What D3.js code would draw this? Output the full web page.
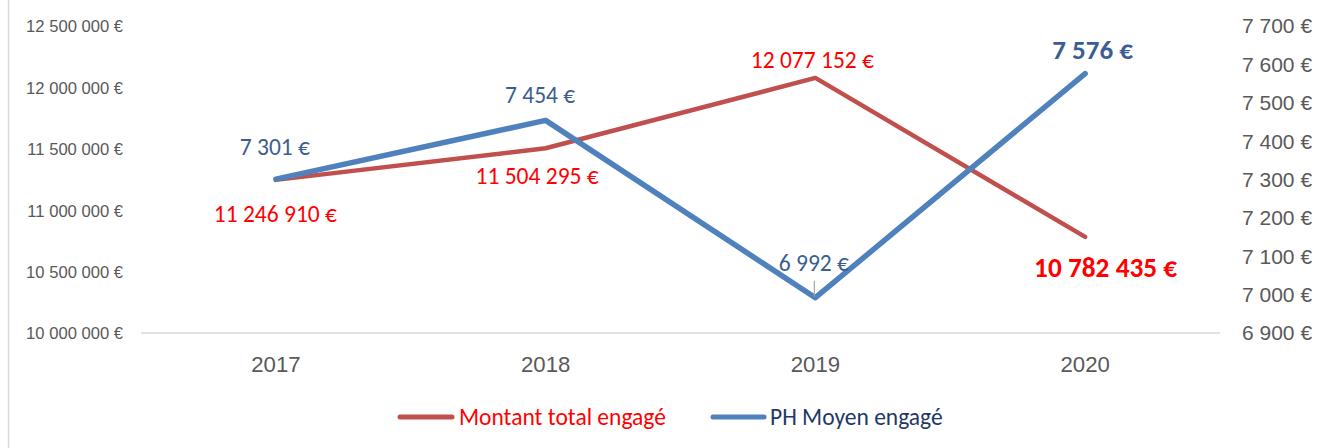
<!DOCTYPE html>
<html><head><meta charset="utf-8">
<script src="https://cdn.jsdelivr.net/npm/d3@7/dist/d3.min.js"></script>
<style>
body{margin:0;background:#fff;}
svg{display:block;font-family:Calibri,Carlito,"Liberation Sans",sans-serif;}
</style></head>
<body><svg id="c" width="1319" height="448"></svg>
<script>
const years = ["2017","2018","2019","2020"];
const montant = [11246910, 11504295, 12077152, 10782435];
const phMoyen = [7301, 7454, 6992, 7576];
const leftTicks = [10000000, 10500000, 11000000, 11500000, 12000000, 12500000];
const rightTicks = [6900, 7000, 7100, 7200, 7300, 7400, 7500, 7600, 7700];
const seriesNames = ["Montant total engagé", "PH Moyen engagé"];

const svg = d3.select("#c");
const W = 1319, H = 448;
const pLeft = 141, pRight = 1220, pTop = 26, pBottom = 333;

const fmt = v => d3.format(",")(v).replace(/,/g, " ") + " €";

const x = d3.scaleBand().domain(years).range([pLeft, pRight]);
const yL = d3.scaleLinear().domain([10000000, 12500000]).range([pBottom, pTop]);
const yR = d3.scaleLinear().domain([6900, 7700]).range([pBottom, pTop]);

svg.append("line").attr("x1", 8.5).attr("x2", 8.5).attr("y1", 0).attr("y2", H)
  .attr("stroke", "#d9d9d9").attr("stroke-width", 1.5);

svg.append("line").attr("x1", pLeft).attr("x2", pRight).attr("y1", pBottom).attr("y2", pBottom)
  .attr("stroke", "#d9d9d9").attr("stroke-width", 1.5);

const gL = svg.append("g").attr("transform", `translate(${pLeft - 18},0)`)
  .call(d3.axisLeft(yL).tickValues(leftTicks).tickSize(0).tickPadding(0).tickFormat(fmt));
gL.select(".domain").remove();
gL.selectAll("text").attr("fill", "#595959").attr("font-size", 16.6).attr("dy", "0.35em");

const gR = svg.append("g").attr("transform", `translate(${pRight + 22},0)`)
  .call(d3.axisRight(yR).tickValues(rightTicks).tickSize(0).tickPadding(0).tickFormat(fmt));
gR.select(".domain").remove();
gR.selectAll("text").attr("fill", "#595959").attr("font-size", 21).attr("dy", "0.33em");

const gX = svg.append("g").attr("transform", `translate(0,${pBottom + 39})`)
  .call(d3.axisBottom(x).tickSize(0).tickPadding(0));
gX.select(".domain").remove();
gX.selectAll("text").attr("fill", "#595959").attr("font-size", 22.2).attr("dy", 0);

const cx = d => x(d) + x.bandwidth() / 2;

const redC = "#C0504D", blueC = "#4F81BD";
const lineL = d3.line().x((d, i) => cx(years[i])).y(d => yL(d));
const lineR = d3.line().x((d, i) => cx(years[i])).y(d => yR(d));

svg.append("path").datum(montant).attr("d", lineL).attr("fill", "none")
  .attr("stroke", redC).attr("stroke-width", 4.5).attr("stroke-linecap", "round").attr("stroke-linejoin", "round");
svg.append("path").datum(phMoyen).attr("d", lineR).attr("fill", "none")
  .attr("stroke", blueC).attr("stroke-width", 5.5).attr("stroke-linecap", "round").attr("stroke-linejoin", "round");

// [dx, baseline dy, bold]
const redLabelOff = [[-0.5, 42, false], [-8.5, 36, false], [-3, -10, false], [20.5, 40, true]];
const blueLabelOff = [[-1, -24, false], [-5.5, -17, false], [-1.5, -27, false], [7.5, -15, true]];

montant.forEach((v, i) => {
  const o = redLabelOff[i];
  svg.append("text").attr("x", cx(years[i]) + o[0]).attr("y", yL(v) + o[1])
    .attr("text-anchor", "middle")
    .attr("font-size", o[2] ? 27.3 : 23.5).attr("font-weight", o[2] ? "bold" : "normal")
    .attr("fill", "#FF0000").text(fmt(v));
});
phMoyen.forEach((v, i) => {
  const o = blueLabelOff[i];
  svg.append("text").attr("x", cx(years[i]) + o[0]).attr("y", yR(v) + o[1])
    .attr("text-anchor", "middle")
    .attr("font-size", o[2] ? 27 : 23.5).attr("font-weight", o[2] ? "bold" : "normal")
    .attr("fill", "#3A5E91").text(fmt(v));
});
svg.append("line").attr("x1", cx("2019") - 1).attr("x2", cx("2019") - 1)
  .attr("y1", yR(phMoyen[2]) - 17).attr("y2", yR(phMoyen[2]) - 1)
  .attr("stroke", "#a6a6a6").attr("stroke-width", 1.2);

const legY = 417;
const leg = [
  {name: seriesNames[0], c: redC, tc: "#FF0000", x1: 400, x2: 452, tx: 459},
  {name: seriesNames[1], c: blueC, tc: "#1F3864", x1: 713, x2: 764, tx: 770}
];
leg.forEach(l => {
  svg.append("line").attr("x1", l.x1).attr("x2", l.x2).attr("y1", legY).attr("y2", legY)
    .attr("stroke", l.c).attr("stroke-width", 5).attr("stroke-linecap", "round");
  svg.append("text").attr("x", l.tx).attr("y", legY + 8)
    .attr("font-size", 23.5).attr("fill", l.tc).text(l.name);
});
</script></body></html>
